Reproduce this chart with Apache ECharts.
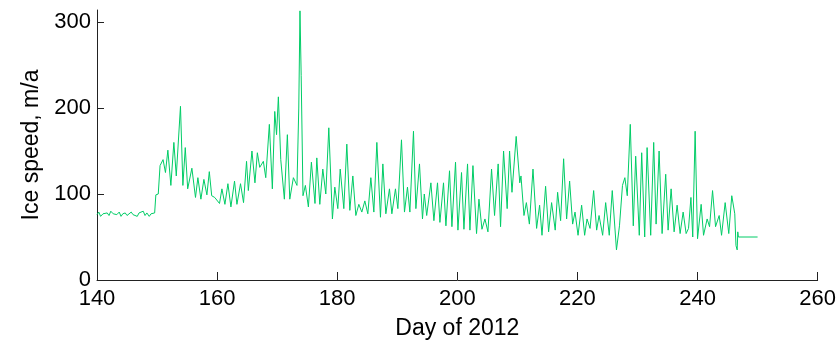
<!DOCTYPE html>
<html>
<head>
<meta charset="utf-8">
<script src="https://cdn.jsdelivr.net/npm/echarts@6/dist/echarts.min.js"></script>
<style>
  html, body { margin: 0; padding: 0; background: #fff; }
  #chart { width: 839px; height: 345px; }
</style>
</head>
<body>
<div id="chart"></div>
<script>
// Day of year (2012) for each sample
const days = [
  140.0, 140.3, 140.6, 141.0, 141.3, 141.7, 142.0, 142.3, 142.7, 143.0,
  143.3, 143.7, 144.0, 144.3, 144.7, 145.0, 145.3, 145.7, 146.0, 146.3,
  146.7, 147.0, 147.3, 147.7, 148.0, 148.3, 148.7, 149.0, 149.3, 149.6,
  149.8, 150.2, 150.5, 151.0, 151.4, 151.8, 152.3, 152.8, 153.2, 153.9,
  154.3, 154.7, 155.1, 155.8, 156.4, 156.8, 157.3, 157.8, 158.3, 158.7,
  159.1, 159.6, 160.4, 160.8, 161.3, 161.8, 162.3, 162.9, 163.3, 163.9,
  164.4, 164.9, 165.2, 165.8, 166.3, 166.7, 167.1, 167.7, 168.1, 168.7,
  169.2, 169.6, 169.9, 170.2, 170.6, 171.2, 171.7, 172.1, 172.7, 173.3,
  173.6, 173.8, 174.0, 174.3, 174.7, 175.2, 175.7, 176.3, 176.6, 177.1,
  177.6, 178.1, 178.6, 179.2, 179.6, 180.1, 180.5, 181.1, 181.6, 182.1,
  182.6, 183.1, 183.6, 184.1, 184.6, 185.1, 185.6, 186.1, 186.6, 187.2,
  187.6, 188.1, 188.7, 189.1, 189.7, 190.1, 190.7, 191.2, 191.7, 192.1,
  192.7, 193.1, 193.7, 194.2, 194.5, 194.9, 195.6, 196.1, 196.7, 197.1,
  197.7, 198.1, 198.7, 199.1, 199.7, 200.1, 200.7, 201.1, 201.7, 202.1,
  202.6, 203.2, 203.6, 204.1, 204.6, 205.1, 205.7, 206.2, 206.8, 207.2,
  207.7, 208.3, 208.7, 209.1, 209.8, 210.4, 210.6, 211.1, 211.5, 212.0,
  212.6, 213.2, 213.7, 214.1, 214.7, 215.2, 215.7, 216.3, 216.7, 217.2,
  217.7, 218.2, 218.7, 219.2, 219.6, 220.1, 220.7, 221.2, 221.6, 222.1,
  222.7, 223.2, 223.6, 224.2, 224.7, 225.3, 225.8, 226.5, 227.0, 227.5,
  227.9, 228.3, 228.8, 229.3, 229.7, 230.3, 230.7, 231.2, 231.6, 232.2,
  232.7, 233.1, 233.6, 234.1, 234.7, 235.1, 235.6, 236.1, 236.6, 237.1,
  237.6, 238.1, 238.5, 238.9, 239.2, 239.6, 240.0, 240.6, 241.0, 241.6,
  242.0, 242.5, 243.0, 243.6, 244.0, 244.6, 245.2, 245.7, 246.2, 246.4,
  246.6, 246.7, 246.8, 250.0
];

// Ice speed (m/a) at each sample
const speed = [
  76, 79, 74, 77, 76, 78, 75, 80, 77, 78,
  76, 79, 74, 77, 78, 75, 77, 79, 76, 78,
  74, 78, 76, 80, 75, 78, 74, 77, 76, 78,
  99, 100, 133, 140, 125, 151, 110, 160, 121, 202,
  110, 154, 106, 130, 96, 119, 94, 117, 99, 126,
  98, 96, 89, 106, 88, 112, 85, 115, 88, 112,
  90, 138, 104, 150, 113, 148, 131, 138, 119, 181,
  106, 196, 169, 213, 140, 94, 169, 94, 119, 110,
  200, 313, 238, 98, 110, 85, 137, 89, 142, 88,
  129, 100, 177, 71, 108, 83, 129, 83, 158, 81,
  121, 75, 88, 79, 92, 77, 119, 79, 160, 73,
  135, 77, 106, 77, 106, 83, 163, 79, 108, 79,
  173, 83, 135, 71, 100, 75, 113, 69, 113, 67,
  113, 63, 127, 62, 137, 58, 125, 59, 135, 58,
  133, 54, 94, 59, 71, 56, 129, 75, 135, 62,
  150, 83, 150, 102, 167, 113, 121, 75, 90, 65,
  129, 60, 87, 52, 109, 56, 90, 58, 102, 69,
  141, 71, 115, 65, 79, 52, 87, 52, 71, 60,
  104, 58, 75, 52, 90, 52, 104, 35, 63, 110,
  119, 98, 181, 63, 144, 52, 148, 50, 154, 52,
  160, 65, 150, 54, 123, 58, 106, 56, 87, 54,
  79, 54, 60, 96, 50, 173, 48, 88, 52, 71,
  62, 104, 62, 75, 52, 90, 54, 98, 77, 40,
  35, 56, 50, 50
];

// Axis tick values
const xTicks = [140, 160, 180, 200, 220, 240, 260];
const yTicks = [0, 100, 200, 300];

const FONT = '"Liberation Sans", Arial, Helvetica, sans-serif';
const AXIS_COLOR = '#222';

const chart = echarts.init(document.getElementById('chart'), null, { renderer: 'canvas' });

chart.setOption({
  animation: false,
  backgroundColor: '#fff',
  grid: { left: 97, right: 18, top: 10, bottom: 63, containLabel: false },
  xAxis: {
    type: 'value',
    min: xTicks[0],
    max: xTicks[xTicks.length - 1],
    interval: 20,
    name: 'Day of 2012',
    nameLocation: 'middle',
    nameGap: 37,
    nameTextStyle: { color: '#000', fontFamily: FONT, fontSize: 23 },
    axisLine: { show: true, lineStyle: { color: AXIS_COLOR, width: 1 } },
    axisTick: { show: true, inside: true, length: 8, lineStyle: { color: AXIS_COLOR } },
    axisLabel: { color: '#000', fontFamily: FONT, fontSize: 22, margin: 8 },
    splitLine: { show: false }
  },
  yAxis: {
    type: 'value',
    min: 0,
    max: 314,
    name: 'Ice speed, m/a',
    nameLocation: 'middle',
    nameGap: 52,
    nameTextStyle: { color: '#000', fontFamily: FONT, fontSize: 23 },
    axisLine: { show: true, lineStyle: { color: AXIS_COLOR, width: 1 } },
    axisTick: { show: true, inside: true, length: 7, customValues: yTicks, lineStyle: { color: AXIS_COLOR } },
    axisLabel: { color: '#000', fontFamily: FONT, fontSize: 22, margin: 6, customValues: yTicks },
    splitLine: { show: false }
  },
  series: [{
    type: 'line',
    data: days.map((d, i) => [d, speed[i]]),
    showSymbol: false,
    symbol: 'none',
    lineStyle: { color: '#00cc66', width: 1 },
    clip: true
  }]
});
</script>
</body>
</html>
